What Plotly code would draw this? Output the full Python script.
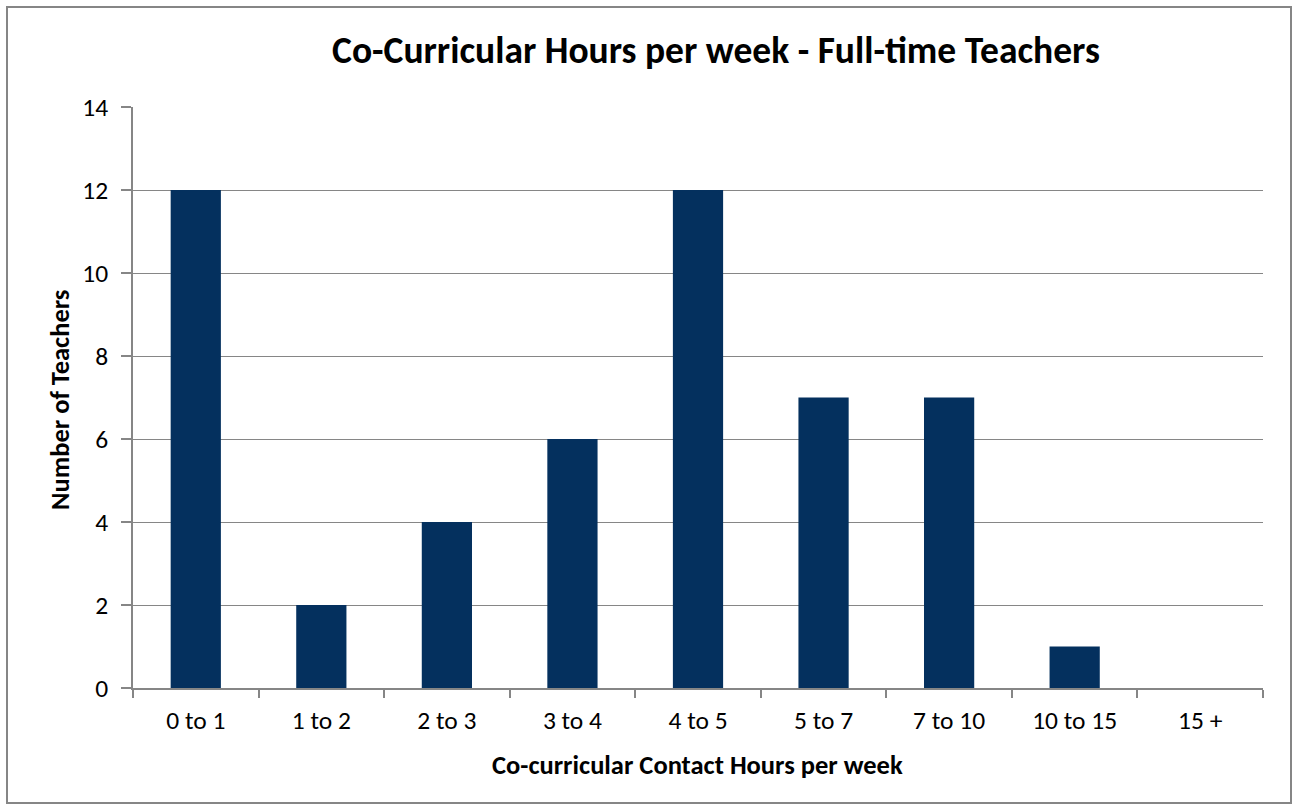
import plotly.graph_objects as go

categories = ["0 to 1", "1 to 2", "2 to 3", "3 to 4", "4 to 5", "5 to 7", "7 to 10", "10 to 15", "15 +"]
teachers = [12, 2, 4, 6, 12, 7, 7, 1, 0]
y_ticks = [0, 2, 4, 6, 8, 10, 12, 14]

FONT = "Carlito, Calibri, Lato, sans-serif"
W, H = 1293, 810
L, R, T, B = 133, 30, 107, 122
PW, PH = W - L - R, H - T - B

fig = go.Figure(go.Bar(x=categories, y=teachers, marker=dict(color="#04305E", line=dict(width=0)),
                       width=0.4))

fig.update_layout(
    width=W, height=H,
    margin=dict(l=L, r=R, t=T, b=B),
    paper_bgcolor="white", plot_bgcolor="white",
    font=dict(family=FONT, size=25.5, color="black"),
    title=dict(text="<b>Co-Curricular Hours per week - Full-time Teachers</b>",
               x=716 / W, xanchor="center", y=1 - 50 / H, yanchor="middle",
               font=dict(size=37.5, family=FONT)),
    showlegend=False,
    xaxis=dict(
        showline=True, linecolor="#868686", linewidth=1.5,
        ticks="outside", tickson="boundaries", ticklen=8, tickcolor="#868686", tickwidth=1.5,
        showgrid=False, ticklabelstandoff=9,
        tickfont=dict(size=25.5),
    ),
    yaxis=dict(
        range=[0, 14], tickvals=y_ticks,
        showline=True, linecolor="#868686", linewidth=1.5,
        ticks="outside", ticklen=10, tickcolor="#868686", tickwidth=1.5,
        showgrid=True, gridcolor="#868686", gridwidth=1.2,
        zeroline=False, ticklabelstandoff=8,
        tickfont=dict(size=25.5),
    ),
)

fig.add_annotation(text="<b>Co-curricular Contact Hours per week</b>", xref="paper", yref="paper",
                   x=(697 - L) / PW, y=-(765 - (T + PH)) / PH, xanchor="center", yanchor="middle",
                   showarrow=False, font=dict(size=26.5, family=FONT))
fig.add_annotation(text="<b>Number of Teachers</b>", xref="paper", yref="paper",
                   x=-(L - 60) / PW, y=1 - (400 - T) / PH, xanchor="center", yanchor="middle",
                   textangle=-90, showarrow=False, font=dict(size=26.5, family=FONT))

fig.add_shape(type="rect", xref="paper", yref="paper",
              x0=-(L - 7) / PW, x1=(1291 - L) / PW, y0=-(803 - T - PH) / PH, y1=1 + (T - 7) / PH,
              line=dict(color="#868686", width=2), fillcolor="rgba(0,0,0,0)", layer="below")

fig.write_html("out.html", config={"displayModeBar": False},
               post_script="document.body.style.margin='0';document.body.style.overflow='hidden';")
